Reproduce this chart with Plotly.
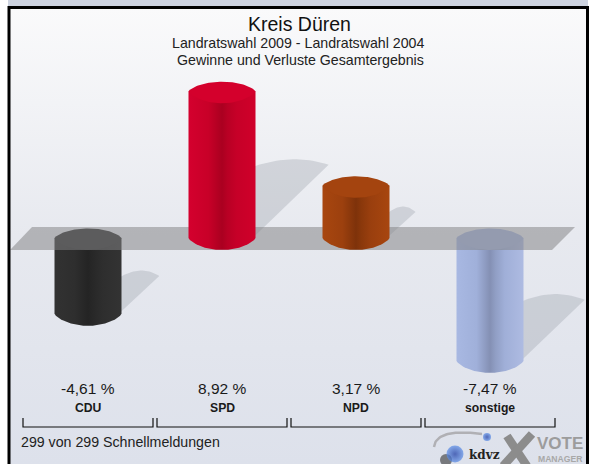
import numpy as np
import plotly.graph_objects as go

# ---- data ----
parties = ["CDU", "SPD", "NPD", "sonstige"]
values = [-4.61, 8.92, 3.17, -7.47]
value_labels = ["-4,61 %", "8,92 %", "3,17 %", "-7,47 %"]
title_text = "Kreis Düren"
subtitle_1 = "Landratswahl 2009 - Landratswahl 2004"
subtitle_2 = "Gewinne und Verluste Gesamtergebnis"
footer_text = "299 von 299 Schnellmeldungen"

# ---- style ----
W, H = 589, 464
X0, DX = 88, 134       # pixel of first category, pixels per category
Y0, DY = 238, 16.45    # pixel of zero, pixels per percentage point
RX, RY = 0.25, 12 / DY  # cylinder radii in axis units
SH = 8.2               # shadow length, pixels per percentage point
ARC = 0.72             # flattening of the cylinder arcs

body_scales = [
    [[0, "#323232"], [0.3, "#2e2e2e"], [0.5, "#242424"], [0.58, "#282828"], [0.72, "#2e2e2e"], [1, "#333333"]],
    [[0, "#d4002e"], [0.3, "#c80028"], [0.5, "#aa0020"], [0.58, "#b80024"], [0.72, "#c60028"], [1, "#d0002a"]],
    [[0, "#a8460f"], [0.3, "#9c400e"], [0.5, "#7e320a"], [0.58, "#8a380b"], [0.72, "#9a3f0e"], [1, "#a8460f"]],
    [[0, "#a8b8e2"], [0.3, "#a0b0da"], [0.5, "#8490b4"], [0.58, "#909ec4"], [0.72, "#a0afd8"], [1, "#aebbe2"]],
]
cap_colors = ["#333333", "#d4002c", "#a4440f", "#a8b6de"]


def ux(px):
    return (np.asarray(px, dtype=float) - X0) / DX


def uy(py):
    return (Y0 - np.asarray(py, dtype=float)) / DY


fig = go.Figure()

# page background
fig.add_trace(go.Scatter(
    x=ux([9, 588, 588, 9, 9]), y=uy([8, 8, 464, 464, 8]), mode="lines", fill="toself",
    line=dict(width=0),
    fillgradient=dict(type="vertical",
                      colorscale=[[0, "#dde1eb"], [0.5, "#e7e9ef"], [1, "#fafafb"]]),
    hoverinfo="skip", showlegend=False))


def shadow(i, v):
    xr = i + RX
    base = min(v, 0)
    d = abs(v) * SH
    tip_x, tip_y = xr + d / DX, base + d / DY
    t = np.linspace(0, 1, 24)
    sx, sy = xr - 0.02, tip_y - 2 / DY
    cx, cy = xr + 0.5 * d / DX, tip_y + 12 / DY
    bx = (1 - t) ** 2 * tip_x + 2 * t * (1 - t) * cx + t ** 2 * sx
    by = (1 - t) ** 2 * tip_y + 2 * t * (1 - t) * cy + t ** 2 * sy
    xs = np.r_[xr - 0.02, tip_x, bx, xr - 0.02]
    ys = np.r_[base, tip_y, by, base]
    fig.add_trace(go.Scatter(x=xs, y=ys, mode="lines", fill="toself", line=dict(width=0),
                             fillcolor="rgba(150,155,166,0.32)",
                             hoverinfo="skip", showlegend=False))


def arc(n=50):
    s = np.linspace(-1, 1, n)
    return s, (1 - s ** 2) ** ARC


def cylinder(i, v):
    top, bot = max(v, 0), min(v, 0)
    s, h = arc()
    xs = np.r_[i - RX, i + RX * s, i + RX, i - RX]
    ys = np.r_[top, bot - RY * h, top, top]
    fig.add_trace(go.Scatter(
        x=xs, y=ys, mode="lines", fill="toself", line=dict(width=0),
        fillgradient=dict(type="horizontal", colorscale=body_scales[i]),
        hoverinfo="skip", showlegend=False))
    fig.add_trace(go.Scatter(
        x=np.r_[i + RX * s, i + RX * s[::-1]],
        y=np.r_[top - RY * h, top + (RY * 0.8) * h[::-1]],
        mode="lines", fill="toself",
        line=dict(width=0), fillcolor=cap_colors[i],
        hoverinfo="skip", showlegend=False))


for i, v in enumerate(values):
    shadow(i, v)
for i, v in enumerate(values):
    if v < 0:
        cylinder(i, v)

# translucent zero plane
fig.add_trace(go.Scatter(
    x=ux([10, 32, 575, 552, 10]), y=uy([250, 227, 227, 250, 250]), mode="lines",
    fill="toself", line=dict(width=0), fillcolor="rgba(130,130,132,0.52)",
    hoverinfo="skip", showlegend=False))

for i, v in enumerate(values):
    if v > 0:
        cylinder(i, v)

# logo marks
arc_t = np.linspace(0, 1, 30)
fig.add_trace(go.Scatter(
    x=ux((1 - arc_t) ** 2 * 434 + 2 * arc_t * (1 - arc_t) * 436 + arc_t ** 2 * 482),
    y=uy((1 - arc_t) ** 2 * 447 + 2 * arc_t * (1 - arc_t) * 428 + arc_t ** 2 * 434),
    mode="lines", line=dict(color="#b0b0b4", width=2.5),
    hoverinfo="skip", showlegend=False))
fig.add_trace(go.Scatter(
    x=ux([446]), y=uy([460]), mode="markers",
    marker=dict(size=[12], color="rgba(40,40,40,0.8)", line=dict(width=0)),
    hoverinfo="skip", showlegend=False))
fig.add_trace(go.Scatter(
    x=ux([455, 487]), y=uy([454, 437]), mode="markers",
    marker=dict(size=[17, 8], color="#5c8fe8", line=dict(width=0),
                gradient=dict(type="radial", color="#1233a0")),
    hoverinfo="skip", showlegend=False))
for xa, ya, xb, yb in [(507, 436, 527, 466), (532, 434, 503, 466)]:
    fig.add_trace(go.Scatter(
        x=ux([xa, xb]), y=uy([ya, yb]), mode="lines",
        line=dict(color="#8c8c8c", width=8.5),
        hoverinfo="skip", showlegend=False))

shapes = [
    # band at the top of the page and black frame
    dict(type="rect", xref="paper", yref="paper", x0=8 / W, x1=588 / W, y0=1 - 7 / H, y1=1,
         fillcolor="#cdd3e0", line=dict(width=0), layer="below"),
    dict(type="rect", xref="paper", yref="paper", x0=9 / W, x1=587.5 / W, y0=1 - 470 / H,
         y1=1 - 7.5 / H, line=dict(color="black", width=3), layer="above"),
]
for i in range(len(parties)):
    xl, xr = i - 65 / DX, i + 65 / DX
    top, bot = float(uy(418)), float(uy(427))
    shapes.append(dict(type="path", xref="x", yref="y",
                       path=f"M{xl},{top} L{xl},{bot} L{xr},{bot} L{xr},{top}",
                       line=dict(color="#111111", width=1.2), layer="above"))


def label(x, py, text, size, color="#1a1a1a", bold=False, anchor="center", fam="Liberation Sans"):
    return dict(x=float(x), y=float(uy(py)), xref="x", yref="y", text=f"<b>{text}</b>" if bold else text,
                showarrow=False, xanchor=anchor, yanchor="middle",
                font=dict(family=fam, size=size, color=color))


annotations = [
    label(ux(299), 24, title_text, 19.5, "#111111"),
    label(ux(298), 43, subtitle_1, 14.2, "#222222"),
    label(ux(300), 60, subtitle_2, 14.2, "#222222"),
    label(ux(19), 442, footer_text, 14.2, "#222222", anchor="left"),
    label(ux(484), 455, "kdvz", 12, "#222222", bold=True, fam="DejaVu Serif"),
    label(ux(560), 443.5, "VOTE", 17, "#9c9c9c", bold=True),
    label(ux(560), 459.3, "MANAGER", 8.6, "#a8a8a8", bold=True),
]
for i in range(len(parties)):
    annotations.append(label(i, 388, value_labels[i], 15.5))
    annotations.append(label(i, 408, parties[i], 12.2, bold=True))

fig.update_layout(
    width=W, height=H, margin=dict(l=0, r=0, t=0, b=0),
    paper_bgcolor="white", plot_bgcolor="rgba(0,0,0,0)", showlegend=False,
    xaxis=dict(range=[float(ux(0)), float(ux(W))], visible=False, fixedrange=True),
    yaxis=dict(range=[float(uy(H)), float(uy(0))], visible=False, fixedrange=True),
    shapes=shapes, annotations=annotations,
)
fig.write_html("out.html", config=dict(displayModeBar=False),
               post_script="document.body.style.margin='0';document.documentElement.style.overflow='hidden';")
